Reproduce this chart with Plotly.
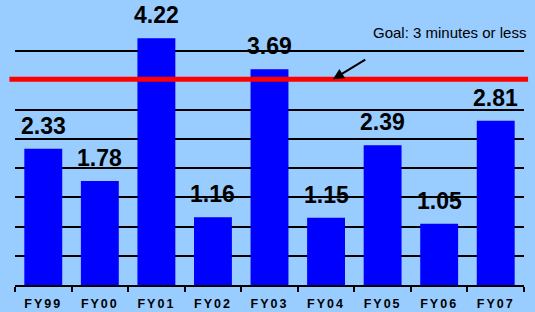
import plotly.graph_objects as go

categories = ["FY99", "FY00", "FY01", "FY02", "FY03", "FY04", "FY05", "FY06", "FY07"]
values = [2.33, 1.78, 4.22, 1.16, 3.69, 1.15, 2.39, 1.05, 2.81]
value_labels = ["2.33", "1.78", "4.22", "1.16", "3.69", "1.15", "2.39", "1.05", "2.81"]
goal_line_value = 3.52
goal_text = "Goal: 3 minutes or less"

FONT = "Liberation Sans, Arial, sans-serif"

fig = go.Figure()
fig.add_trace(go.Bar(
    x=categories, y=values,
    marker=dict(color="#0000FF", line=dict(width=0)),
    hoverinfo="skip",
))

for c, v, t in zip(categories, values, value_labels):
    fig.add_annotation(x=c, y=v, text="<b>%s</b>" % t, showarrow=False,
                       yshift=23, yanchor="middle",
                       font=dict(family=FONT, size=23, color="black"))

fig.add_shape(type="line", xref="paper", yref="y", x0=-0.011, x1=1.008,
              y0=goal_line_value, y1=goal_line_value,
              line=dict(color="#FF0000", width=5), layer="above")

fig.add_annotation(xref="paper", yref="paper", x=0.70, y=0.961, xanchor="left",
                   yanchor="middle", text=goal_text, showarrow=False,
                   font=dict(family=FONT, size=15, color="black"))

fig.add_annotation(x=5.12, y=goal_line_value, ax=5.72, ay=3.87, axref="x", ayref="y",
                   xref="x", yref="y", text="", showarrow=True, arrowhead=2,
                   arrowsize=1.1, arrowwidth=2, arrowcolor="black")

fig.update_layout(
    width=535, height=312,
    margin=dict(l=15, r=11, t=22, b=27, autoexpand=False),
    paper_bgcolor="#99CCFF", plot_bgcolor="#99CCFF",
    bargap=0.33, showlegend=False,
)
fig.update_xaxes(
    tickson="boundaries", ticks="outside", ticklen=5, tickwidth=2, tickcolor="black",
    showline=True, linecolor="black", linewidth=2, showgrid=False, automargin=False,
    tickfont=dict(family=FONT, size=12.5, color="black", weight="bold"),
    ticklabelstandoff=6,
)
fig.update_yaxes(
    range=[0, 4.5], dtick=0.5, showgrid=True, gridcolor="black", gridwidth=2,
    showticklabels=False, zeroline=False, showline=False, automargin=False,
)

post = """
document.body.style.margin = '0';
document.body.style.overflow = 'hidden';
document.querySelectorAll('.xtick text').forEach(function(t){ t.style.letterSpacing = '2px'; });
"""
fig.write_html("out.html", post_script=post, config={"displayModeBar": False})
